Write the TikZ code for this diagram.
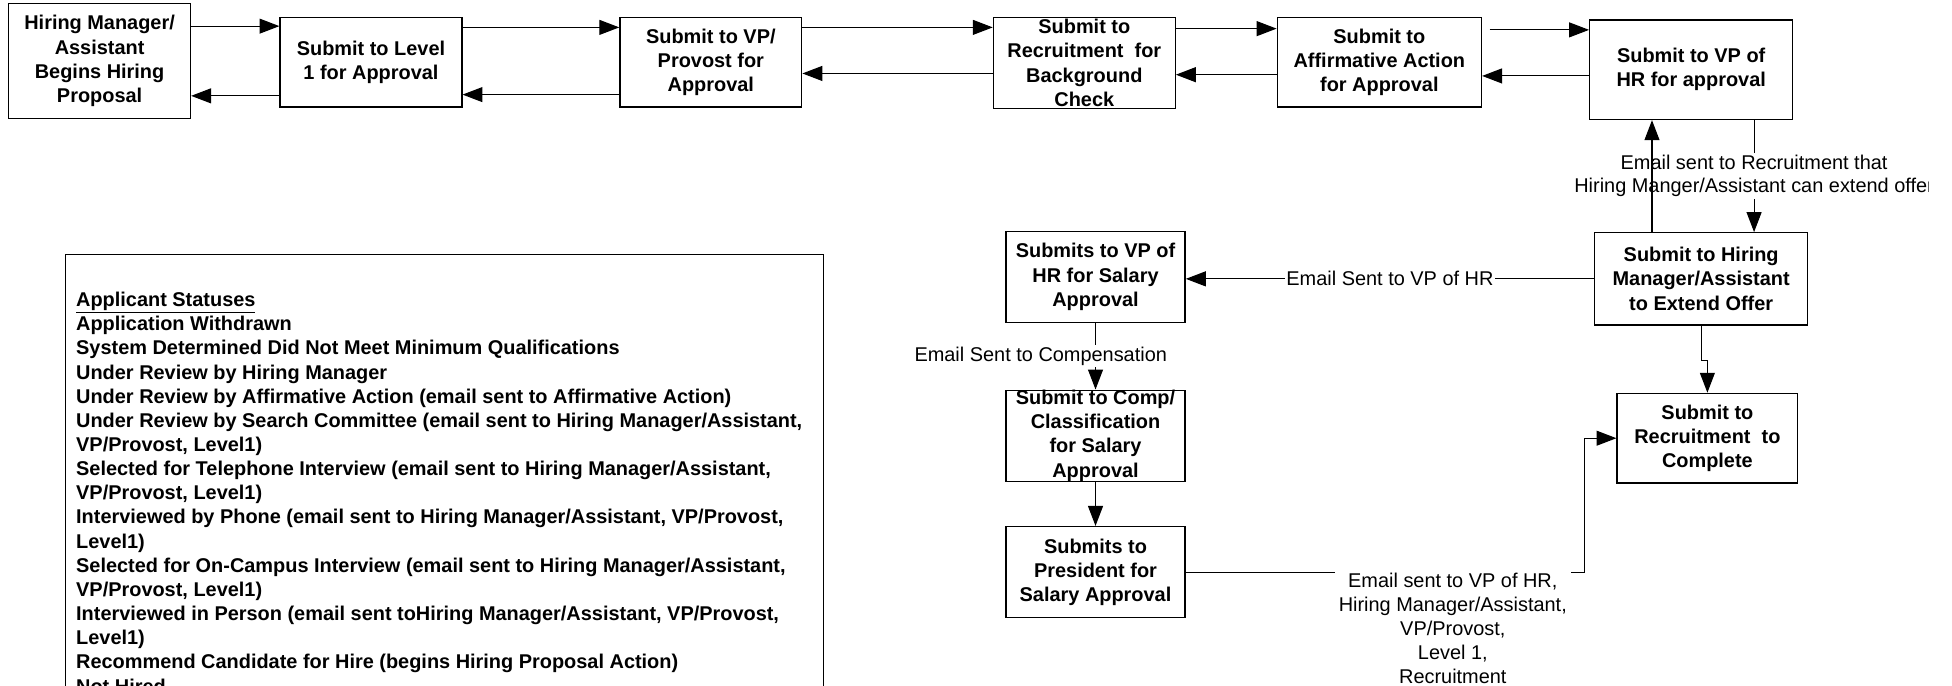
\documentclass[tikz,border=0pt]{standalone}
\usepackage{fontspec}
\setmainfont{Liberation Sans}
\usetikzlibrary{arrows.meta}
\begin{document}
\begin{tikzpicture}[x=1pt,y=-1pt,
  box/.style={draw, line width=1.1pt, inner sep=0pt, align=center, font=\bfseries\fontsize{16}{19.4}\selectfont},
  lbl/.style={font=\fontsize{16}{19.2}\selectfont, align=center, fill=white, inner sep=1.5pt},
  arr/.style={line width=0.9pt, -{Triangle[length=16pt,width=12pt]}},
  ln/.style={line width=0.9pt}]
\useasboundingbox (0,0) rectangle (1568,551);
% top row
\node[box, minimum width=146pt, minimum height=92pt] (b1) at (80,49) {Hiring Manager/\\Assistant\\Begins Hiring\\Proposal};
\node[box, minimum width=146pt, minimum height=72pt] (b2) at (298,50) {Submit to Level\\1 for Approval};
\node[box, minimum width=146pt, minimum height=72pt] (b3) at (571,50) {Submit to VP/\\Provost for\\Approval};
\node[box, minimum width=146pt, minimum height=73pt] (b4) at (871,50.5) {Submit to\\Recruitment\ \ for\\Background\\Check};
\node[box, minimum width=164pt, minimum height=72pt] (b5) at (1108,50) {Submit to\\Affirmative Action\\for Approval};
\node[box, minimum width=163pt, minimum height=80pt] (b6) at (1358.5,56) {Submit to VP of\\HR for approval};
% right / lower boxes
\node[box, minimum width=171pt, minimum height=74pt] (offer) at (1366.5,224) {Submit to Hiring\\Manager/Assistant\\to Extend Offer};
\node[box, minimum width=144pt, minimum height=73pt] (vphr) at (880,222.5) {Submits to VP of\\HR for Salary\\Approval};
\node[box, minimum width=144pt, minimum height=72pt] (comp) at (880,350) {Submit to Comp/\\Classification\\for Salary\\Approval};
\node[box, minimum width=144pt, minimum height=73pt] (pres) at (880,459.5) {Submits to\\President for\\Salary Approval};
\node[box, minimum width=145pt, minimum height=72pt] (done) at (1371.5,352) {Submit to\\Recruitment\ \ to\\Complete};
% top row connectors
\draw[arr] (b1.east |- 0,21) -- (b2.west |- 0,21);
\draw[arr] (b2.west |- 0,77) -- (b1.east |- 0,77);
\draw[arr] (b2.east |- 0,22) -- (b3.west |- 0,22);
\draw[arr] (b3.west |- 0,76) -- (b2.east |- 0,76);
\draw[arr] (b3.east |- 0,22) -- (b4.west |- 0,22);
\draw[arr] (b4.west |- 0,59) -- (b3.east |- 0,59);
\draw[arr] (b4.east |- 0,23) -- (b5.west |- 0,23);
\draw[arr] (b5.west |- 0,60) -- (b4.east |- 0,60);
\draw[arr] ([xshift=6pt]b5.east |- 0,24) -- (b6.west |- 0,24);
\draw[arr] (b6.west |- 0,61) -- (b5.east |- 0,61);
% VP of HR <-> extend offer
\coordinate (ux) at (1327,0);
\coordinate (dx) at (1409,0);
\begin{scope}
\clip (0,0) rectangle (1549,551);
\draw[arr] (b6.south -| dx) -- node[lbl, font=\fontsize{16}{18.5}\selectfont] (lblrec) {Email sent to Recruitment that\\Hiring Manger/Assistant can extend offer} (offer.north -| dx);
\end{scope}
\draw[arr] (offer.north -| ux) -- (b6.south -| ux);
% offer -> vphr
\draw[arr] (offer.west) -- node[lbl] (lblvp) {Email Sent to VP of HR} (vphr.east |- offer.west);
% vphr -> comp
\draw[arr] (vphr.south) -- node[lbl, xshift=-44pt] (lblcomp) {Email Sent to Compensation} (comp.north);
% comp -> pres
\draw[arr] (comp.south) -- (pres.north);
% offer -> done
\draw[arr] (offer.south) -- ++(0,28) -| (done.north);
% pres -> done
\coordinate (bend) at (1273,460);
\draw[arr] (pres.east |- bend) -- (bend) |- (done.west);
\node[lbl, anchor=north, inner sep=3pt, font=\fontsize{16}{19.25}\selectfont] (lblall) at (1167,457.5) {Email sent to VP of HR,\\Hiring Manager/Assistant,\\VP/Provost,\\Level 1,\\Recruitment};
% applicant statuses
\node[draw, line width=1.1pt, anchor=north west, minimum width=609pt, minimum height=360pt, inner sep=0pt] (statbox) at (52,204) {};
\node[anchor=north west, align=left, inner sep=0pt, font=\bfseries\fontsize{16}{19.4}\selectfont] (stat) at (61,234.5) {\underline{Applicant Statuses}\\
Application Withdrawn\\
System Determined Did Not Meet Minimum Qualifications\\
Under Review by Hiring Manager\\
Under Review by Affirmative Action (email sent to Affirmative Action)\\
Under Review by Search Committee (email sent to Hiring Manager/Assistant,\\
VP/Provost, Level1)\\
Selected for Telephone Interview (email sent to Hiring Manager/Assistant,\\
VP/Provost, Level1)\\
Interviewed by Phone (email sent to Hiring Manager/Assistant, VP/Provost,\\
Level1)\\
Selected for On-Campus Interview (email sent to Hiring Manager/Assistant,\\
VP/Provost, Level1)\\
Interviewed in Person (email sent toHiring Manager/Assistant, VP/Provost,\\
Level1)\\
Recommend Candidate for Hire (begins Hiring Proposal Action)\\
Not Hired};
\end{tikzpicture}
\end{document}
